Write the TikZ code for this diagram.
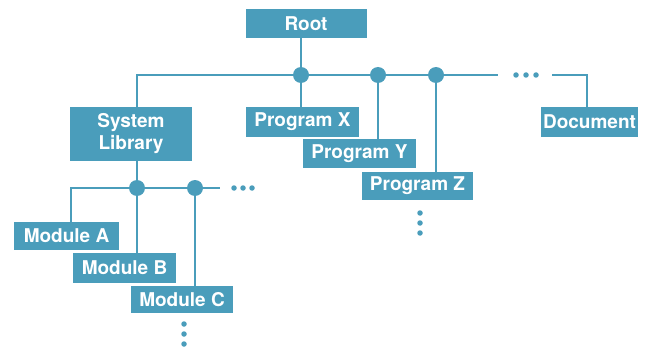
\documentclass[tikz,border=0pt]{standalone}
\usepackage{fontspec}
\setmainfont{TeX Gyre Heros}
\definecolor{treeblue}{RGB}{74,157,187}

\begin{document}
\begin{tikzpicture}[x=1pt, y=-1pt,
    box/.style={rectangle, fill=treeblue, text=white, inner sep=0pt,
        minimum height=29pt, font=\bfseries\fontsize{19}{22}\selectfont, align=center},
    junction/.style={circle, fill=treeblue, inner sep=0pt, minimum size=16pt},
    dot/.style={circle, fill=treeblue, inner sep=0pt, minimum size=5.5pt},
    link/.style={treeblue, line width=1.6pt}]
        \useasboundingbox (0,0) rectangle (645,350);

        % Nodes
        \node (root) [box, minimum width=121pt] at (306,23.5) {Root};
        \node (syslib) [box, minimum width=122pt, minimum height=54pt] at (131,134) {System\\Library};
        \node (progx) [box, minimum width=113pt, minimum height=30pt] at (302.5,122) {Program X};
        \node (progy) [box, minimum width=113pt] at (359.5,153.5) {Program Y};
        \node (progz) [box, minimum width=111pt, minimum height=28pt] at (417.5,186) {Program Z};
        \node (doc) [box, minimum width=97pt, minimum height=30pt] at (589.5,122) {Document};
        \node (moda) [box, minimum width=105pt, minimum height=28pt] at (66.5,236) {Module A};
        \node (modb) [box, minimum width=103pt, minimum height=30pt] at (124.5,268) {Module B};
        \node (modc) [box, minimum width=102pt, minimum height=27pt] at (182,299.5) {Module C};

        % Bus points
        \coordinate (busl) at (137,75);
        \coordinate (busr) at (498,75);
        \coordinate (docl) at (552,75);
        \coordinate (docr) at (587,75);
        \coordinate (subl) at (71,188);
        \coordinate (subr) at (220,188);

        % Edges
        \draw[link] (syslib.north -| busl) -- (busl) -- (busr);
        \draw[link] (docl) -- (docr) -- (doc.north -| docr);
        \draw[link] (syslib.south -| busl) -- (busl |- subl);
        \draw[link] (moda.north -| subl) -- (subl) -- (subr);

        \node (j1) [junction] at (301,75) {};
        \node (j2) [junction] at (378,75) {};
        \node (j3) [junction] at (436,75) {};
        \node (ja) [junction] at (137,188) {};
        \node (jb) [junction] at (195,188) {};

        \draw[link] (root.south -| j1) -- (j1);
        \draw[link] (j1) -- (progx.north -| j1);
        \draw[link] (j2) -- (progy.north -| j2);
        \draw[link] (j3) -- (progz.north -| j3);
        \draw[link] (ja) -- (modb.north -| ja);
        \draw[link] (jb) -- (modc.north -| jb);

        % Continuation dots
        \foreach \x [count=\i] in {516,526,536}
            \node (bd\i) [dot] at (\x,75) {};
        \foreach \x [count=\i] in {234,243,252}
            \node (sd\i) [dot] at (\x,188) {};
        \foreach \y [count=\i] in {213,223,233}
            \node (zd\i) [dot] at (420,\y) {};
        \foreach \y [count=\i] in {324,334,344}
            \node (cd\i) [dot] at (184,\y) {};
    \end{tikzpicture}
\end{document}
